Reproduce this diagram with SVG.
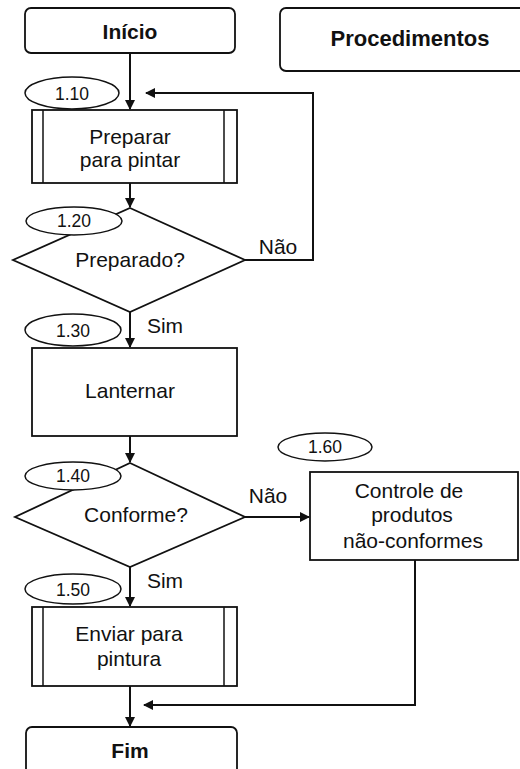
<svg xmlns="http://www.w3.org/2000/svg" width="520" height="769" viewBox="0 0 520 769">
<style>
.sh{fill:#fff;stroke:#111;stroke-width:1.8}
.el{fill:#fff;stroke:#111;stroke-width:1.5}
.ln{fill:none;stroke:#111;stroke-width:2}
.t{font-family:"Liberation Sans",Arial,sans-serif;font-size:21px;fill:#111;text-anchor:middle}
.b{font-weight:bold}
.s{font-size:17.5px}
</style>
<defs>
<marker id="ah" markerWidth="10" markerHeight="10" refX="9" refY="5" orient="auto" markerUnits="userSpaceOnUse">
<path d="M0,0 L10,5 L0,10 Z" fill="#111"/>
</marker>
</defs>
<rect width="520" height="769" fill="#fff"/>
<g id="connectors">
<line class="ln" x1="130" y1="53" x2="130" y2="109" marker-end="url(#ah)"/>
<polyline class="ln" points="245,260 313,260 313,93 146,93" marker-end="url(#ah)"/>
<line class="ln" x1="130" y1="183" x2="130" y2="207" marker-end="url(#ah)"/>
<line class="ln" x1="130" y1="312" x2="130" y2="347" marker-end="url(#ah)"/>
<line class="ln" x1="130" y1="436" x2="130" y2="462" marker-end="url(#ah)"/>
<line class="ln" x1="245" y1="517" x2="309" y2="517" marker-end="url(#ah)"/>
<line class="ln" x1="130" y1="567" x2="130" y2="606" marker-end="url(#ah)"/>
<polyline class="ln" points="415,560 415,705 144,705" marker-end="url(#ah)"/>
<line class="ln" x1="130" y1="686" x2="130" y2="726" marker-end="url(#ah)"/>
<text class="t" x="278" y="254">Não</text>
<text class="t" x="165" y="333">Sim</text>
<text class="t" x="268" y="503">Não</text>
<text class="t" x="165" y="588">Sim</text>
</g>
<g id="inicio">
<rect class="sh" x="25" y="8" width="210" height="45" rx="6"/>
<text class="t b" x="130" y="39">Início</text>
</g>
<g id="procedimentos">
<rect class="sh" x="280" y="8" width="250" height="63" rx="6"/>
<text class="t b" x="410" y="46" style="font-size:22px">Procedimentos</text>
</g>
<g id="preparar">
<rect class="sh" x="32" y="110" width="205" height="73"/>
<line class="ln" x1="43" y1="110" x2="43" y2="183" style="stroke-width:1.5"/>
<line class="ln" x1="224" y1="110" x2="224" y2="183" style="stroke-width:1.5"/>
<text class="t" x="130" y="144">Preparar</text>
<text class="t" x="130" y="167">para pintar</text>
</g>
<g id="n110">
<ellipse class="el" cx="72" cy="93" rx="47" ry="16"/>
<text class="t s" x="72" y="100">1.10</text>
</g>
<g id="preparado">
<polygon class="sh" points="130,208 245,260 130,312 13,260"/>
<text class="t" x="130" y="267">Preparado?</text>
</g>
<g id="n120">
<ellipse class="el" cx="74" cy="221" rx="48" ry="14"/>
<text class="t s" x="74" y="227">1.20</text>
</g>
<g id="lanternar">
<rect class="sh" x="32" y="348" width="205" height="88"/>
<text class="t" x="130" y="398">Lanternar</text>
</g>
<g id="n130">
<ellipse class="el" cx="73" cy="330" rx="48" ry="16"/>
<text class="t s" x="73" y="337">1.30</text>
</g>
<g id="conforme">
<polygon class="sh" points="130,463 245,517 130,567 15,517"/>
<text class="t" x="136" y="522">Conforme?</text>
</g>
<g id="n140">
<ellipse class="el" cx="73" cy="476" rx="48" ry="14"/>
<text class="t s" x="73" y="482">1.40</text>
</g>
<g id="controle">
<rect class="sh" x="310" y="472" width="208" height="88"/>
<text class="t" x="409" y="498">Controle de</text>
<text class="t" x="412" y="522">produtos</text>
<text class="t" x="413" y="548">não-conformes</text>
</g>
<g id="n160">
<ellipse class="el" cx="325" cy="447" rx="47" ry="14"/>
<text class="t s" x="325" y="453">1.60</text>
</g>
<g id="enviar">
<rect class="sh" x="32" y="607" width="205" height="79"/>
<line class="ln" x1="43" y1="607" x2="43" y2="686" style="stroke-width:1.5"/>
<line class="ln" x1="224" y1="607" x2="224" y2="686" style="stroke-width:1.5"/>
<text class="t" x="129" y="641">Enviar para</text>
<text class="t" x="129" y="666">pintura</text>
</g>
<g id="n150">
<ellipse class="el" cx="73" cy="589" rx="48" ry="15"/>
<text class="t s" x="73" y="596">1.50</text>
</g>
<g id="fim">
<rect class="sh" x="26" y="727" width="211" height="50" rx="6"/>
<text class="t b" x="130" y="758">Fim</text>
</g>
</svg>
